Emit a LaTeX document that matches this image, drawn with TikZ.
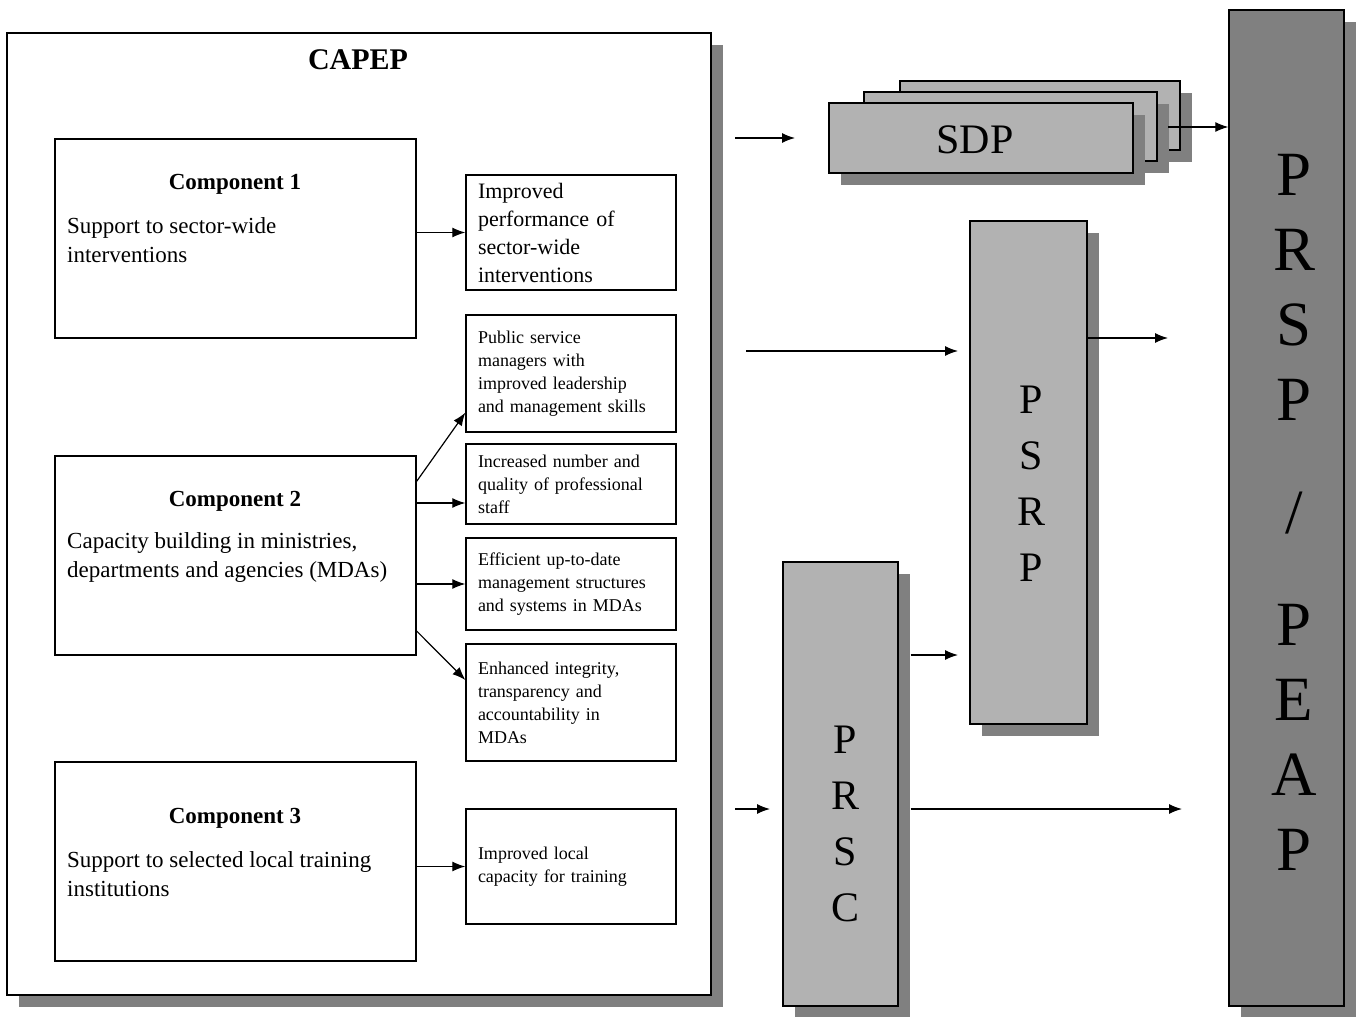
\documentclass[tikz,border=0pt]{standalone}
\usepackage{fontspec}
\setmainfont{Liberation Serif}
\usetikzlibrary{shadows,arrows.meta,calc}
\definecolor{boxgray}{HTML}{B2B2B2}
\definecolor{shadgray}{HTML}{808080}
\begin{document}
\begin{tikzpicture}[x=1pt,y=-1pt,
  shad/.style={drop shadow={shadow xshift=12pt,shadow yshift=-12pt,fill=shadgray,opacity=1}},
  frame/.style={draw=black,line width=1.3pt,inner sep=0pt},
  whitebox/.style={frame,fill=white},
  graybox/.style={frame,fill=boxgray,shad},
  darkbox/.style={frame,fill=shadgray,shad},
  outbox/.style={frame,fill=white,text width=186pt,inner xsep=12pt,inner ysep=0pt,align=left,
     font=\fontsize{18}{23}\selectfont},
  comptitle/.style={font=\fontsize{23}{29}\selectfont\bfseries,inner sep=0pt},
  comptext/.style={font=\fontsize{23}{29}\selectfont,align=left,inner sep=0pt,anchor=west},
  bigletters/.style={font=\fontsize{42}{56}\selectfont,align=center,inner sep=0pt},
  arr/.style={line width=1.2pt,-{Latex[length=13pt,width=10pt]}}
]
\useasboundingbox (0,0) rectangle (1361,1017);

% CAPEP frame
\node[whitebox,shad,minimum width=704pt,minimum height=962pt] (capep) at (359,514) {};
\node[font=\fontsize{30}{36}\selectfont\bfseries,inner sep=0pt] (capeptitle) at (358,60) {CAPEP};

% components
\node[whitebox,minimum width=361pt,minimum height=199pt] (c1) at (235.5,238.5) {};
\node[whitebox,minimum width=361pt,minimum height=199pt] (c2) at (235.5,555.5) {};
\node[whitebox,minimum width=361pt,minimum height=199pt] (c3) at (235.5,861.5) {};
\node[comptitle] (c1t) at (235,184) {Component 1};
\node[comptext] (c1b) at (67,240.5) {Support to sector-wide\\interventions};
\node[comptitle] (c2t) at (235,501) {Component 2};
\node[comptext] (c2b) at (67,557.5) {Capacity building in ministries,\\departments and agencies (MDAs)};
\node[comptitle] (c3t) at (235,818) {Component 3};
\node[comptext] (c3b) at (67,874.5) {Support to selected local training\\institutions};

% outcomes
\node[outbox,minimum height=115pt,font=\fontsize{22}{28}\selectfont] (o1) at (571,232.5)
  {Improved\\performance of\\sector-wide\\interventions};
\node[outbox,minimum height=117pt] (o2) at (571,373.5)
  {Public service\\managers with\\improved leadership\\and management skills};
\node[outbox,minimum height=80pt] (o3) at (571,484)
  {Increased number and\\quality of professional\\staff};
\node[outbox,minimum height=92pt] (o4) at (571,584)
  {Efficient up-to-date\\management structures\\and systems in MDAs};
\node[outbox,minimum height=117pt] (o5) at (571,702.5)
  {Enhanced integrity,\\transparency and\\accountability in\\MDAs};
\node[outbox,minimum height=115pt] (o6) at (571,866.5)
  {Improved local\\capacity for training};

% component arrows
\draw[arr] (c1.east |- o1.west) -- (o1.west);
\draw[arr] ($(c2.north east)+(0,26)$) -- ($(o2.south west)+(0,-20)$);
\draw[arr] ($(c2.east)+(0,-52.5)$) coordinate (t3) -- (t3 -| o3.west);
\draw[arr] (c2.east |- o4.west) -- (o4.west);
\draw[arr] ($(c2.east)+(0,75.5)$) -- ($(o5.west)+(0,-22.5)$);
\draw[arr] (c3.east |- o6.west) -- (o6.west);

% SDP stack
\node[graybox,minimum width=280pt,minimum height=69pt] (sdp3) at (1040,115.5) {};
\node[graybox,minimum width=293pt,minimum height=69pt] (sdp2) at (1010.5,126.5) {};
\node[graybox,minimum width=304pt,minimum height=70pt] (sdp1) at (981,138) {};
\node[font=\fontsize{42}{50}\selectfont,inner sep=0pt] (sdpl) at (975,140) {SDP};

% PSRP, PRSC, PRSP/PEAP
\node[graybox,minimum width=117pt,minimum height=503pt] (psrp) at (1028.5,472.5) {};
\node[bigletters] (psrpl) at (1031,484) {P\\S\\R\\P};
\node[graybox,minimum width=115pt,minimum height=444pt] (prsc) at (840.5,784) {};
\node[bigletters] (prscl) at (845,824) {P\\R\\S\\C};
\node[darkbox,minimum width=115pt,minimum height=996pt] (prsp) at (1286.5,508) {};
\node[font=\fontsize{63}{75}\selectfont,align=center,inner sep=0pt]
  (prspl) at (1294,512.5) {P\\R\\S\\P\\[37.5pt]/\\[37.5pt]P\\E\\A\\P};

% free-ended connectors
\coordinate (in1) at (735,138);
\coordinate (in1e) at (795,138);
\coordinate (in2) at (746,351);
\coordinate (in2e) at (958,351);
\coordinate (in3) at (735,809);
\coordinate (in3e) at (770,809);
\coordinate (sdpout) at (1168,127);
\coordinate (psrpout) at (1168,338);
\coordinate (prscup) at (958,655);
\coordinate (prscout) at (1182,809);

\draw[arr] (in1) -- (in1e);
\draw[arr] (in2) -- (in2e);
\draw[arr] (in3) -- (in3e);
\draw[arr] (sdpout) -- (sdpout -| prsp.west);
\draw[arr] (psrp.east |- psrpout) -- (psrpout);
\draw[arr] ($(prsc.east |- prscup)+(12,0)$) -- (prscup);
\draw[arr] ($(prsc.east |- prscout)+(12,0)$) -- (prscout);
\end{tikzpicture}
\end{document}
